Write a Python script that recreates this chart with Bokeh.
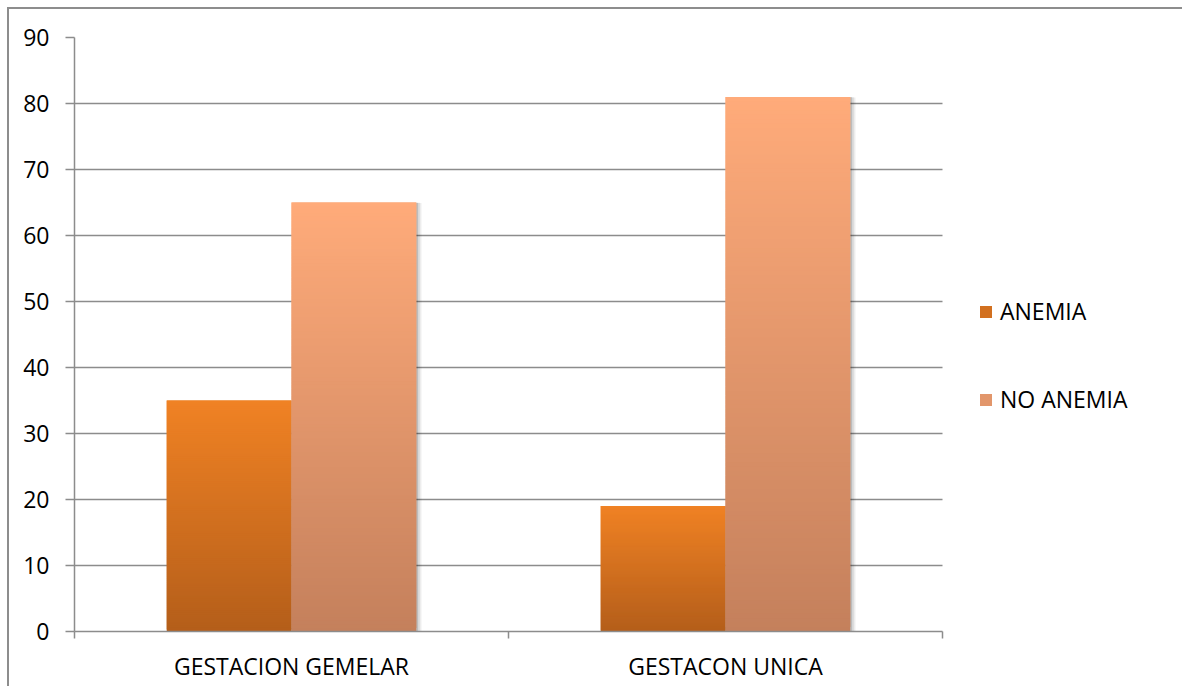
from bokeh.plotting import figure
from bokeh.models import (Range1d, FixedTicker, ColumnDataSource, Legend, LegendItem)
from bokeh.embed import file_html
from bokeh.resources import INLINE

# ---- data ----
categories = ["GESTACION GEMELAR", "GESTACON UNICA"]
series = ["ANEMIA", "NO ANEMIA"]
anemia = [35, 19]
no_anemia = [65, 81]
y_ticks = [0, 10, 20, 30, 40, 50, 60, 70, 80, 90]

# gradient end colours (bottom, top) for each series
grad = {
    "ANEMIA": ("#b45e1a", "#f08224"),
    "NO ANEMIA": ("#c4805c", "#ffab7a"),
}

FONT = "Open Sans"
GRID = "#8c8c8c"
N_SLICES = 120
BAR_W = 0.2875
PLOT_W = 868          # pixel width of the category area
LEGEND_W = 1175 - 65 - PLOT_W   # space kept free on the right for the legend
X_END = 2 * (PLOT_W + LEGEND_W) / PLOT_W


def blend(c1, c2, t):
    a = [int(c1[i:i + 2], 16) for i in (1, 3, 5)]
    b = [int(c2[i:i + 2], 16) for i in (1, 3, 5)]
    return "#%02x%02x%02x" % tuple(round(a[j] + (b[j] - a[j]) * t) for j in range(3))


p = figure(width=1175, height=679, output_backend="svg", toolbar_location=None,
           x_range=Range1d(0, X_END), y_range=Range1d(0, 90),
           min_border_left=65, min_border_right=0, min_border_top=28,
           min_border_bottom=57,
           styles={"margin-left": "7px", "margin-top": "7px",
                   "border-left": "2px solid #8d8d8d",
                   "border-top": "2px solid #8d8d8d"})
p.outline_line_color = None
p.background_fill_color = "white"

# ---- gridlines limited to the category area ----
p.xgrid.grid_line_color = None
p.ygrid.ticker = FixedTicker(ticks=y_ticks)
try:
    p.ygrid.cross_bounds = (0, 2)
    p.ygrid.grid_line_color = GRID
    p.ygrid.grid_line_width = 1.5
except AttributeError:
    p.ygrid.grid_line_color = None
    p.segment(x0=[0] * len(y_ticks), x1=[2] * len(y_ticks), y0=y_ticks, y1=y_ticks,
              line_color=GRID, line_width=1.5)

# ---- bars: shadow + vertical gradient built from thin overlapping slices ----
renderers = {}
for s_idx, (name, vals) in enumerate(zip(series, [anemia, no_anemia])):
    lefts, rights, bottoms, tops, colors = [], [], [], [], []
    sl, sr, st = [], [], []
    for c_idx, v in enumerate(vals):
        center = c_idx + 0.5
        left = center - BAR_W if s_idx == 0 else center
        right = left + BAR_W
        sl.append(left)
        sr.append(right)
        st.append(v)
        for k in range(N_SLICES):
            lefts.append(left)
            rights.append(right)
            bottoms.append(v * k / N_SLICES)
            tops.append(min(v, v * (k + 2) / N_SLICES))
            colors.append(blend(grad[name][0], grad[name][1], (k + 0.5) / N_SLICES))
    # soft drop shadow
    for off, alpha in [(0.012, 0.07), (0.008, 0.09), (0.004, 0.12)]:
        p.quad(left=[x + off for x in sl], right=[x + off for x in sr],
               bottom=[-off * 12] * len(st), top=[t - off * 6 for t in st],
               fill_color="#000000", fill_alpha=alpha, line_color=None)
    src = ColumnDataSource(dict(left=lefts, right=rights, bottom=bottoms,
                                top=tops, color=colors))
    renderers[name] = p.quad(left="left", right="right", bottom="bottom", top="top",
                             fill_color="color", line_color=None, source=src)

# ---- axes ----
p.yaxis.ticker = FixedTicker(ticks=y_ticks)
p.yaxis.axis_line_color = GRID
p.yaxis.axis_line_width = 1.5
p.yaxis.major_tick_line_color = GRID
p.yaxis.major_tick_line_width = 1.5
p.yaxis.major_tick_out = 9
p.yaxis.major_tick_in = 0
p.yaxis.minor_tick_line_color = None
p.yaxis.major_label_standoff = 16
p.yaxis.major_label_text_font = FONT
p.yaxis.major_label_text_font_size = "23px"
p.yaxis.major_label_text_color = "#000000"

p.xaxis.bounds = (0, 2)
p.xaxis.ticker = FixedTicker(ticks=[0.5, 1.5], minor_ticks=[0, 1, 2])
p.xaxis.major_label_overrides = {0.5: categories[0], 1.5: categories[1]}
p.xaxis.axis_line_color = GRID
p.xaxis.axis_line_width = 1.5
p.xaxis.major_tick_line_color = None
p.xaxis.major_tick_out = 0
p.xaxis.minor_tick_line_color = GRID
p.xaxis.minor_tick_line_width = 1.5
p.xaxis.minor_tick_out = 7
p.xaxis.minor_tick_in = 0
p.xaxis.major_label_standoff = 11
p.xaxis.major_label_text_font = FONT
p.xaxis.major_label_text_font_size = "23px"
p.xaxis.major_label_text_color = "#000000"

# ---- legend to the right of the bars ----
legend = Legend(items=[LegendItem(label=series[0], renderers=[renderers[series[0]]], index=N_SLICES // 2),
                       LegendItem(label=series[1], renderers=[renderers[series[1]]], index=N_SLICES // 2)],
                location=(PLOT_W + 36, 216), orientation="vertical",
                glyph_width=15, glyph_height=15, label_height=20,
                label_standoff=7, spacing=56, padding=0, margin=0,
                label_text_font=FONT, label_text_font_size="23px",
                label_text_color="#000000",
                border_line_color=None, background_fill_alpha=0)
p.add_layout(legend)

open("out.html", "w").write(file_html(p, INLINE))
